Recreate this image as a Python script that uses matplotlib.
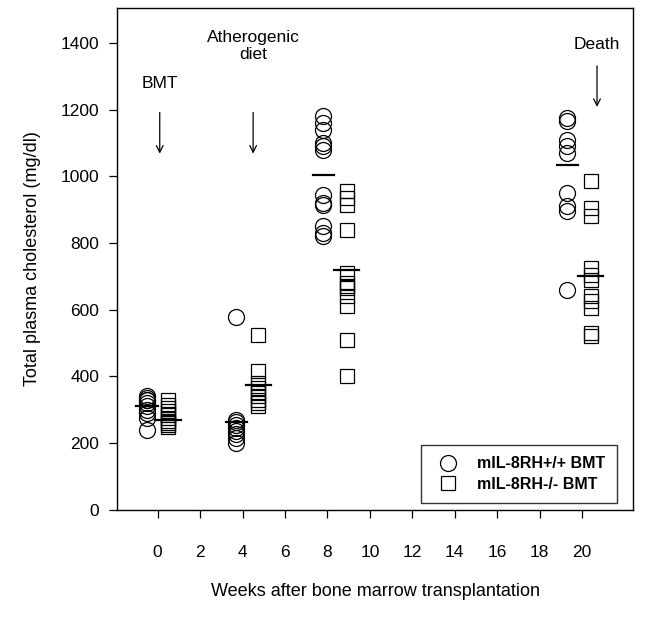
import matplotlib
matplotlib.use("Agg")
import matplotlib.pyplot as plt

plt.rcParams["font.family"] = ["Liberation Sans", "DejaVu Sans"]

# x positions of each group (weeks), slightly offset around the sampling week
wt_x = [-0.5, 3.7, 7.8, 19.3]
ko_x = [0.5, 4.75, 8.9, 20.4]

# mIL-8RH+/+ BMT (circles)
wt_values = [
    [340, 335, 330, 328, 320, 312, 300, 290, 275, 240],
    [578, 270, 262, 255, 245, 235, 228, 215, 200],
    [1180, 1160, 1140, 1100, 1090, 1080, 945, 920, 915, 850, 830, 820],
    [1175, 1165, 1110, 1090, 1070, 950, 910, 895, 660],
]
# mIL-8RH-/- BMT (squares)
ko_values = [
    [330, 315, 305, 295, 285, 275, 265, 260, 255, 248],
    [525, 415, 380, 365, 350, 340, 330, 320, 310],
    [955, 935, 915, 840, 710, 680, 670, 665, 640, 610, 510, 400],
    [985, 905, 880, 725, 705, 690, 640, 625, 605, 530, 520],
]
wt_means = [310, 262, 1005, 1035]
ko_means = [270, 375, 718, 700]

x_ticks = list(range(0, 21, 2))
y_ticks = list(range(0, 1401, 200))

events = ["BMT", "Atherogenic\ndiet", "Death"]
event_x = [0.1, 4.5, 20.7]
event_text_y = [1280, 1390, 1395]
event_arrow = [(1200, 1060), (1200, 1060), (1340, 1200)]

fig = plt.figure(figsize=(6.48, 6.18), dpi=100)
ax = fig.add_axes([0.181, 0.175, 0.796, 0.812])

for i, (x, vals) in enumerate(zip(wt_x, wt_values)):
    ax.plot([x] * len(vals), vals, linestyle="none", marker="o", markersize=11.5,
            markerfacecolor="none", markeredgecolor="black", markeredgewidth=0.9,
            label="mIL-8RH+/+ BMT" if i == 0 else None)
    ax.plot([x - 0.5, x + 0.5], [wt_means[i]] * 2, color="black", linewidth=1.6)

for i, (x, vals) in enumerate(zip(ko_x, ko_values)):
    ax.plot([x] * len(vals), vals, linestyle="none", marker="s", markersize=10,
            markerfacecolor="none", markeredgecolor="black", markeredgewidth=0.9,
            label="mIL-8RH-/- BMT" if i == 0 else None)
    ax.plot([x - 0.6, x + 0.6], [ko_means[i]] * 2, color="black", linewidth=1.6)

for label, x, ty, (a0, a1) in zip(events, event_x, event_text_y, event_arrow):
    ax.text(x, ty, label, ha="center", va="center", fontsize=12.5, linespacing=1.15)
    ax.annotate("", xy=(x, a1), xytext=(x, a0),
                arrowprops=dict(arrowstyle="->", color="black", lw=0.9,
                                mutation_scale=12))

ax.set_xlim(-1.9, 22.4)
ax.set_ylim(0, 1505)
ax.set_xticks(x_ticks)
ax.set_yticks(y_ticks)
ax.tick_params(direction="out", length=6, width=0.9, labelsize=12.5)
ax.tick_params(axis="x", pad=19)
ax.tick_params(axis="y", pad=7)
for s in ax.spines.values():
    s.set_linewidth(1.0)

ax.set_xlabel("Weeks after bone marrow transplantation", fontsize=13, labelpad=17)
ax.set_ylabel("Total plasma cholesterol (mg/dl)", fontsize=13, labelpad=14)

leg = ax.legend(loc="lower right", bbox_to_anchor=(0.971, 0.01), frameon=True,
                fancybox=False, edgecolor="black", borderaxespad=0.1,
                prop={"weight": "bold", "size": 11.5}, borderpad=0.7,
                handletextpad=0.8, labelspacing=0.35)
leg.get_frame().set_linewidth(1.0)

fig.savefig("out.png", dpi=100)
